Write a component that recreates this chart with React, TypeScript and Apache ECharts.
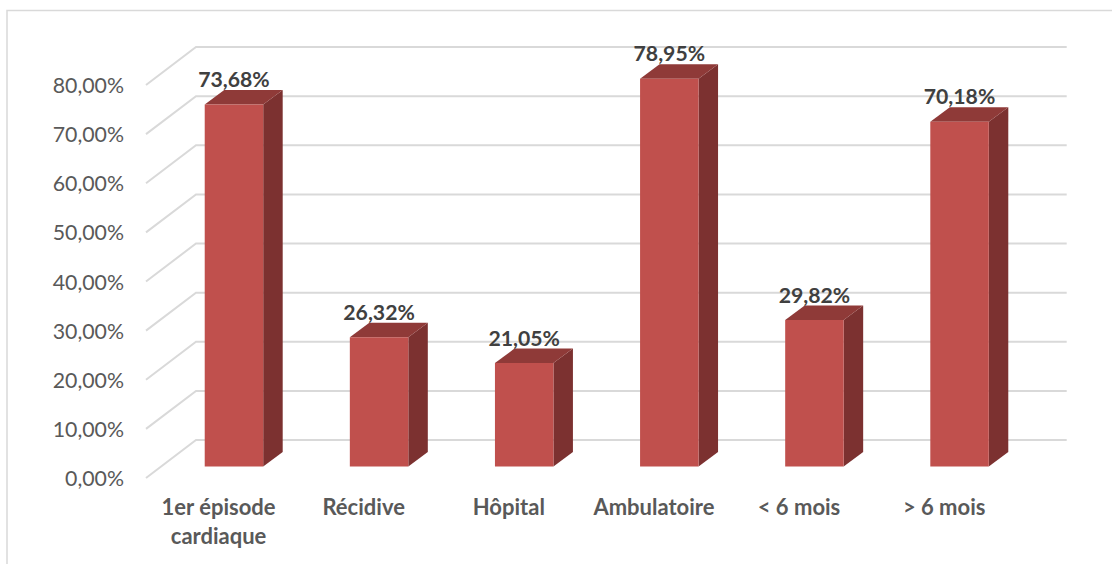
import React, { useEffect, useRef } from "react";
import * as echarts from "echarts";

const categories = ["1er épisode\ncardiaque", "Récidive", "Hôpital", "Ambulatoire", "< 6 mois", "> 6 mois"];
const values = [73.68, 26.32, 21.05, 78.95, 29.82, 70.18];
const ticks = [0, 10, 20, 30, 40, 50, 60, 70, 80];

const FONT = "Lato, Carlito, 'Open Sans', sans-serif";
const fmt = (v: number) => v.toFixed(2).replace(".", ",") + "%";

export default function App() {
  const ref = useRef<HTMLDivElement>(null);
  useEffect(() => {
    document.body.style.margin = "0";
    const chart = echarts.init(ref.current!, null, { renderer: "svg" });
    chart.setOption({
      animation: false,
      backgroundColor: "#ffffff",
      grid: { left: 146, top: 85, width: 870.7, height: 393, containLabel: false },
      xAxis: {
        type: "category",
        data: categories,
        axisLine: { show: false },
        axisTick: { show: false },
        axisLabel: {
          interval: 0,
          margin: 14,
          fontFamily: FONT,
          fontSize: 22,
          fontWeight: "bold",
          color: "#595959",
          lineHeight: 29,
          verticalAlign: "top",
        },
      },
      yAxis: {
        type: "value",
        min: 0,
        max: 80,
        interval: 10,
        axisLine: { show: false },
        axisTick: { show: false },
        splitLine: { show: false },
        axisLabel: {
          margin: 22,
          fontFamily: FONT,
          fontSize: 21.3,
          color: "#595959",
          formatter: (v: number) => fmt(v),
        },
      },
      graphic: [
        {
          type: "polyline",
          silent: true,
          shape: { points: [[7, 564], [7, 10.5], [1112, 10.5]] },
          style: { stroke: "#d9d9d9", lineWidth: 1.5, fill: "none" },
        },
      ],
      series: [
        {
          type: "custom",
          z: 1,
          clip: false,
          silent: true,
          data: ticks.map((t) => [0, t]),
          encode: { x: 0, y: 1 },
          renderItem: (params: any, api: any) => {
            const cs = params.coordSys;
            const y = api.coord([0, api.value(1)])[1];
            return {
              type: "polyline",
              shape: {
                points: [
                  [cs.x, y],
                  [cs.x + 50, y - 38],
                  [cs.x + cs.width + 50, y - 38],
                ],
              },
              style: { stroke: "#d9d9d9", lineWidth: 2, fill: "none" },
            };
          },
        },
        {
          type: "custom",
          z: 2,
          clip: false,
          silent: true,
          data: values.map((v, i) => [i, v]),
          encode: { x: 0, y: 1 },
          renderItem: (_params: any, api: any) => {
            const idx = api.value(0);
            const val = api.value(1);
            const top = api.coord([idx, val]);
            const base = api.coord([idx, 0]);
            const w = api.size([1, 0])[0] * 0.403;
            const cx = top[0] + 15.4;
            const x0 = cx - w / 2;
            const x1 = cx + w / 2;
            const yt = top[1] - 11.5;
            const yb = base[1] - 11.5;
            const dx = 19.5;
            const dy = 14.5;
            return {
              type: "group",
              children: [
                {
                  type: "polygon",
                  shape: { points: [[x1, yt], [x1 + dx, yt - dy], [x1 + dx, yb - dy], [x1, yb]] },
                  style: { fill: "#7c3130" },
                },
                {
                  type: "polygon",
                  shape: { points: [[x0, yt], [x0 + dx, yt - dy], [x1 + dx, yt - dy], [x1, yt]] },
                  style: { fill: "#8f3a38" },
                },
                {
                  type: "rect",
                  shape: { x: x0, y: yt, width: w, height: yb - yt },
                  style: { fill: "#c0504d" },
                },
                {
                  type: "text",
                  style: {
                    text: fmt(val),
                    x: cx,
                    y: yt - 25.5,
                    align: "center",
                    verticalAlign: "middle",
                    fontFamily: FONT,
                    fontSize: 21.2,
                    fontWeight: "bold",
                    fill: "#404040",
                  },
                },
              ],
            };
          },
        },
      ],
    });
    return () => chart.dispose();
  }, []);
  return <div ref={ref} style={{ position: "fixed", left: 0, top: 0, width: 1112, height: 564 }} />;
}
